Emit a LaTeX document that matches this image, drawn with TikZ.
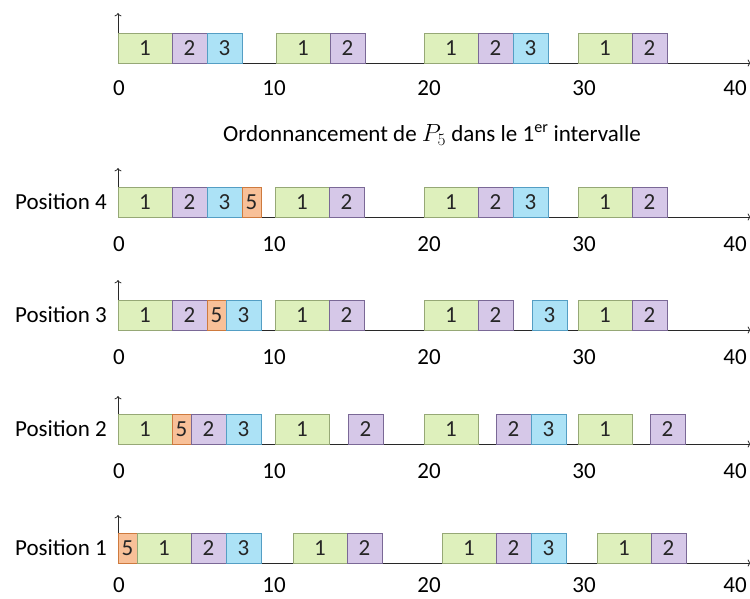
\documentclass[tikz,border=0pt]{standalone}
\usepackage{fontspec}
\setmainfont{Carlito}
\usetikzlibrary{arrows.meta, positioning}
\definecolor{vert}{RGB}{222,240,188}
\definecolor{vertbord}{RGB}{150,168,118}
\definecolor{mauve}{RGB}{214,200,232}
\definecolor{mauvebord}{RGB}{122,104,150}
\definecolor{cyan1}{RGB}{172,226,246}
\definecolor{cyanbord}{RGB}{84,158,196}
\definecolor{orange1}{RGB}{248,192,152}
\definecolor{orangebord}{RGB}{206,122,62}
\definecolor{axegris}{RGB}{40,40,40}
\tikzset{
    box/.style={rectangle, draw, minimum height=30pt, inner sep=0pt, outer sep=0pt, line width=0.8pt, anchor=south west, text=black!85, font=\fontsize{23}{27}\selectfont},
    p1/.style={box, minimum width=54pt, fill=vert, draw=vertbord},
    p2/.style={box, minimum width=35pt, fill=mauve, draw=mauvebord},
    p3/.style={box, minimum width=35pt, fill=cyan1, draw=cyanbord},
    p5/.style={box, minimum width=19pt, fill=orange1, draw=orangebord},
    lab/.style={inner sep=0pt, font=\fontsize{23}{27}\selectfont},
    axe/.style={line width=0.8pt, draw=axegris, ->}
}
\begin{document}
\begin{tikzpicture}[x=1pt, y=-1pt]
    \useasboundingbox (0,0) rectangle (750,599);

    % Axes
    \coordinate (o0) at (118,63);  \coordinate (x0) at (751,63);  \coordinate (y0) at (118,13);
    \coordinate (o4) at (118,217); \coordinate (x4) at (751,217); \coordinate (y4) at (118,168);
    \coordinate (o3) at (118,330); \coordinate (x3) at (751,330); \coordinate (y3) at (118,280);
    \coordinate (o2) at (118,444); \coordinate (x2) at (751,444); \coordinate (y2) at (118,396);
    \coordinate (o1) at (118,563); \coordinate (x1) at (751,563); \coordinate (y1) at (118,515);
    \draw[axe] (o0) -- (x0); \draw[axe] (o0) -- (y0);
    \draw[axe] (o4) -- (x4); \draw[axe] (o4) -- (y4);
    \draw[axe] (o3) -- (x3); \draw[axe] (o3) -- (y3);
    \draw[axe] (o2) -- (x2); \draw[axe] (o2) -- (y2);
    \draw[axe] (o1) -- (x1); \draw[axe] (o1) -- (y1);

    % Initial schedule
    \node (r0a) [p1] at (118,63) {1};
    \node (r0b) [p2, right=0pt of r0a] {2};
    \node (r0c) [p3, right=0pt of r0b] {3};
    \node (r0d) [p1] at (276,63) {1};
    \node (r0e) [p2, right=0pt of r0d] {2};
    \node (r0f) [p1] at (424,63) {1};
    \node (r0g) [p2, right=0pt of r0f] {2};
    \node (r0h) [p3, right=0pt of r0g] {3};
    \node (r0i) [p1] at (578,63) {1};
    \node (r0j) [p2, right=0pt of r0i] {2};
    \node (n0a) [lab] at (119,88) {0};
    \node (n0b) [lab] at (274,88) {10};
    \node (n0c) [lab] at (429,88) {20};
    \node (n0d) [lab] at (584,88) {30};
    \node (n0e) [lab] at (735,88) {40};

    \node (titre) [lab] at (432,135) {Ordonnancement de $P_5$ dans le 1\textsuperscript{er} intervalle};

    % Position 4
    \node (pos4) [lab, anchor=east] at (107,202) {Position 4};
    \node (r4a) [p1] at (118,217) {1};
    \node (r4b) [p2, right=0pt of r4a] {2};
    \node (r4c) [p3, right=0pt of r4b] {3};
    \node (r4d) [p5, right=0pt of r4c] {5};
    \node (r4e) [p1] at (275,217) {1};
    \node (r4f) [p2, right=0pt of r4e] {2};
    \node (r4g) [p1] at (424,217) {1};
    \node (r4h) [p2, right=0pt of r4g] {2};
    \node (r4i) [p3, right=0pt of r4h] {3};
    \node (r4j) [p1] at (578,217) {1};
    \node (r4k) [p2, right=0pt of r4j] {2};
    \node (n4a) [lab] at (119,244) {0};
    \node (n4b) [lab] at (274,244) {10};
    \node (n4c) [lab] at (429,244) {20};
    \node (n4d) [lab] at (584,244) {30};
    \node (n4e) [lab] at (735,244) {40};

    % Position 3
    \node (pos3) [lab, anchor=east] at (107,315) {Position 3};
    \node (r3a) [p1] at (118,330) {1};
    \node (r3b) [p2, right=0pt of r3a] {2};
    \node (r3c) [p5, right=0pt of r3b] {5};
    \node (r3d) [p3, right=0pt of r3c] {3};
    \node (r3e) [p1] at (275,330) {1};
    \node (r3f) [p2, right=0pt of r3e] {2};
    \node (r3g) [p1] at (424,330) {1};
    \node (r3h) [p2, right=0pt of r3g] {2};
    \node (r3i) [p3] at (532,330) {3};
    \node (r3j) [p1] at (578,330) {1};
    \node (r3k) [p2, right=0pt of r3j] {2};
    \node (n3a) [lab] at (119,357) {0};
    \node (n3b) [lab] at (274,357) {10};
    \node (n3c) [lab] at (429,357) {20};
    \node (n3d) [lab] at (584,357) {30};
    \node (n3e) [lab] at (735,357) {40};

    % Position 2
    \node (pos2) [lab, anchor=east] at (107,429) {Position 2};
    \node (r2a) [p1] at (118,444) {1};
    \node (r2b) [p5, right=0pt of r2a] {5};
    \node (r2c) [p2, right=0pt of r2b] {2};
    \node (r2d) [p3, right=0pt of r2c] {3};
    \node (r2e) [p1] at (275,444) {1};
    \node (r2f) [p2] at (348,444) {2};
    \node (r2g) [p1] at (424,444) {1};
    \node (r2h) [p2] at (496,444) {2};
    \node (r2i) [p3, right=0pt of r2h] {3};
    \node (r2j) [p1] at (578,444) {1};
    \node (r2k) [p2] at (650,444) {2};
    \node (n2a) [lab] at (119,471) {0};
    \node (n2b) [lab] at (274,471) {10};
    \node (n2c) [lab] at (429,471) {20};
    \node (n2d) [lab] at (584,471) {30};
    \node (n2e) [lab] at (735,471) {40};

    % Position 1
    \node (pos1) [lab, anchor=east] at (107,548) {Position 1};
    \node (r1a) [p5] at (118,563) {5};
    \node (r1b) [p1, right=0pt of r1a] {1};
    \node (r1c) [p2, right=0pt of r1b] {2};
    \node (r1d) [p3, right=0pt of r1c] {3};
    \node (r1e) [p1] at (293,563) {1};
    \node (r1f) [p2, right=0pt of r1e] {2};
    \node (r1g) [p1] at (442,563) {1};
    \node (r1h) [p2, right=0pt of r1g] {2};
    \node (r1i) [p3, right=0pt of r1h] {3};
    \node (r1j) [p1] at (597,563) {1};
    \node (r1k) [p2, right=0pt of r1j] {2};
    \node (n1a) [lab] at (119,585) {0};
    \node (n1b) [lab] at (274,585) {10};
    \node (n1c) [lab] at (429,585) {20};
    \node (n1d) [lab] at (584,585) {30};
    \node (n1e) [lab] at (735,585) {40};
\end{tikzpicture}
\end{document}
